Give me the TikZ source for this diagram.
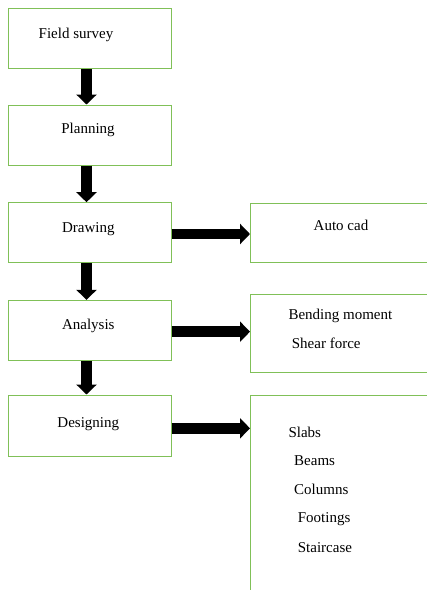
\documentclass[tikz,border=0pt]{standalone}
\usepackage{fontspec}
\setmainfont{Liberation Serif}
\usetikzlibrary{arrows.meta}
\definecolor{boxgreen}{RGB}{128,192,88}
\tikzset{
  box/.style={draw=boxgreen, line width=1pt, rectangle, inner sep=0pt},
  lbl/.style={inner sep=0pt, font=\fontsize{15}{18}\selectfont},
  bigarrow/.style={draw=black, line width=10.5pt, -{Triangle[length=10pt,width=20pt]}},
}
\begin{document}
\begin{tikzpicture}[x=1pt,y=-1pt]
\useasboundingbox (0,0) rectangle (427,590);
\clip (0,0) rectangle (427,590);
% left boxes
\node[box, minimum width=163pt, minimum height=60pt] (b1) at (89.5,38.5) {};
\node[box, minimum width=163pt, minimum height=60pt] (b2) at (89.5,135) {};
\node[box, minimum width=163pt, minimum height=60pt] (b3) at (89.5,232.7) {};
\node[box, minimum width=163pt, minimum height=60pt] (b4) at (89.5,330.3) {};
\node[box, minimum width=163pt, minimum height=61pt] (b5) at (89.5,425.5) {};
% right boxes (extend past the right edge)
\node[box, minimum width=200pt, minimum height=59pt, anchor=north west] (r1) at (250,202.7) {};
\node[box, minimum width=200pt, minimum height=78pt, anchor=north west] (r2) at (250,294.3) {};
\node[box, minimum width=200pt, minimum height=220pt, anchor=north west] (r3) at (250,395) {};
% texts
\node[lbl, anchor=base] (t1) at (76,38.5) {Field survey};
\node[lbl, anchor=base] (t2) at (88,133) {Planning};
\node[lbl, anchor=base] (t3) at (88.3,232) {Drawing};
\node[lbl, anchor=base] (t4) at (88.3,329.5) {Analysis};
\node[lbl, anchor=base] (t5) at (88.3,427) {Designing};
\node[lbl, anchor=base] (ta) at (341,230) {Auto cad};
\node[lbl, anchor=base west] (tb) at (288.3,319) {Bending moment};
\node[lbl, anchor=base west] (tc) at (291.7,348) {Shear force};
\node[lbl, anchor=base west] (s1) at (288.3,437) {Slabs};
\node[lbl, anchor=base west] (s2) at (294,465.5) {Beams};
\node[lbl, anchor=base west] (s3) at (294,494.5) {Columns};
\node[lbl, anchor=base west] (s4) at (297.7,522.5) {Footings};
\node[lbl, anchor=base west] (s5) at (297.7,552) {Staircase};
% vertical arrows
\draw[bigarrow] ([xshift=-3pt]b1.south) -- ([xshift=-3pt]b2.north);
\draw[bigarrow] ([xshift=-3pt]b2.south) -- ([xshift=-3pt]b3.north);
\draw[bigarrow] ([xshift=-3pt]b3.south) -- ([xshift=-3pt]b4.north);
\draw[bigarrow] ([xshift=-3pt]b4.south) -- ([xshift=-3pt]b5.north);
% horizontal arrows
\draw[bigarrow] (b3.east |- 0,234) -- (r1.west |- 0,234);
\draw[bigarrow] (b4.east |- 0,331.7) -- (r2.west |- 0,331.7);
\draw[bigarrow] (b5.east |- 0,428.3) -- (r3.west |- 0,428.3);
\end{tikzpicture}
\end{document}
